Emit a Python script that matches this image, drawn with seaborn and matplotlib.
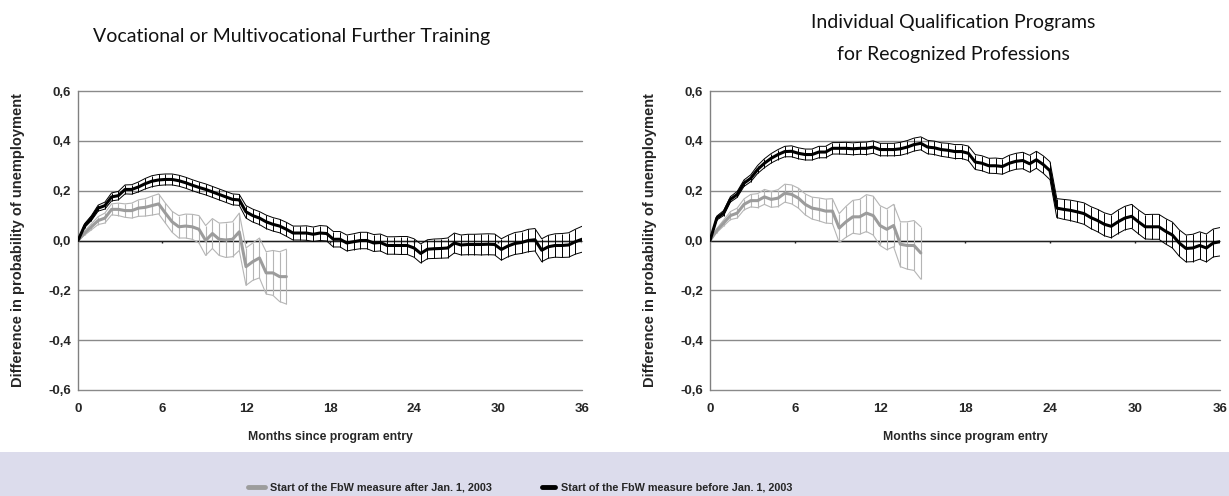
import numpy as np
import pandas as pd
import matplotlib
matplotlib.use("Agg")
import matplotlib.pyplot as plt
from matplotlib.patches import Rectangle
from matplotlib.lines import Line2D
import seaborn as sns

sns.set_theme(style="white")
plt.rcParams["font.family"] = ["Liberation Sans", "DejaVu Sans"]

# ---------------- data ----------------
STEP = 0.48  # months between observations

titles_left = ["Vocational or Multivocational Further Training"]
titles_right = ["Individual Qualification Programs", "for Recognized Professions"]
ylabel = "Difference in probability of unemployment"
xlabel = "Months since program entry"
legend_after = "Start of the FbW measure after Jan. 1, 2003"
legend_before = "Start of the FbW measure before Jan. 1, 2003"

xticks = [0, 6, 12, 18, 24, 30, 36]
yticks = [-0.6, -0.4, -0.2, 0.0, 0.2, 0.4, 0.6]
ytick_labels = ["-0,6", "-0,4", "-0,2", "0,0", "0,2", "0,4", "0,6"]

# Left panel, start before 2003 (black)
left_before_mean = [
    0.0, 0.06, 0.09, 0.13, 0.14, 0.175, 0.18, 0.205, 0.205, 0.215,
    0.228, 0.238, 0.243, 0.245, 0.245, 0.24, 0.232, 0.222, 0.213, 0.205,
    0.195, 0.185, 0.175, 0.165, 0.163, 0.115, 0.10, 0.09, 0.075, 0.065,
    0.058, 0.045, 0.03, 0.03, 0.03, 0.025, 0.03, 0.028, 0.005, 0.005,
    -0.01, -0.005, 0.0, 0.0, -0.01, -0.008, -0.02, -0.02, -0.02, -0.02,
    -0.03, -0.052, -0.035, -0.033, -0.032, -0.03, -0.01, -0.018, -0.016, -0.016,
    -0.016, -0.015, -0.016, -0.036, -0.022, -0.012, -0.008, 0.0, 0.003, -0.039,
    -0.025, -0.02, -0.02, -0.018, -0.005, 0.005,
]
left_before_hw = [
    0.0, 0.008, 0.01, 0.012, 0.014, 0.016, 0.017, 0.018, 0.019, 0.02,
    0.021, 0.022, 0.022, 0.022, 0.022, 0.022, 0.022, 0.022, 0.022, 0.022,
    0.022, 0.022, 0.022, 0.022, 0.022, 0.025, 0.026, 0.026, 0.027, 0.027,
    0.027, 0.028, 0.028, 0.028, 0.029, 0.029, 0.03, 0.03, 0.031, 0.031,
    0.032, 0.032, 0.033, 0.033, 0.034, 0.034, 0.035, 0.035, 0.036, 0.036,
    0.037, 0.038, 0.038, 0.039, 0.039, 0.04, 0.04, 0.04, 0.041, 0.041,
    0.042, 0.042, 0.042, 0.043, 0.043, 0.044, 0.044, 0.045, 0.045, 0.046,
    0.046, 0.047, 0.048, 0.049, 0.05, 0.052,
]
# Left panel, start after 2003 (gray)
left_after_mean = [
    0.0, 0.03, 0.055, 0.08, 0.09, 0.125, 0.125, 0.12, 0.12, 0.13,
    0.133, 0.14, 0.147, 0.11, 0.075, 0.055, 0.058, 0.055, 0.045, 0.0,
    0.028, 0.005, 0.002, 0.005, 0.035, -0.105, -0.085, -0.07, -0.13, -0.13,
    -0.145, -0.145,
]
left_after_hw = [
    0.0, 0.008, 0.012, 0.016, 0.02, 0.022, 0.025, 0.027, 0.03, 0.033,
    0.035, 0.038, 0.04, 0.04, 0.042, 0.045, 0.048, 0.05, 0.055, 0.06,
    0.06, 0.065, 0.07, 0.07, 0.075, 0.075, 0.075, 0.08, 0.085, 0.09,
    0.1, 0.11,
]

# Right panel, start before 2003 (black)
right_before_mean = [
    0.0, 0.09, 0.11, 0.165, 0.185, 0.23, 0.25, 0.285, 0.31, 0.33,
    0.345, 0.357, 0.358, 0.35, 0.345, 0.345, 0.355, 0.355, 0.37, 0.37,
    0.37, 0.368, 0.37, 0.37, 0.375, 0.365, 0.365, 0.365, 0.368, 0.375,
    0.385, 0.39, 0.375, 0.372, 0.365, 0.362, 0.357, 0.357, 0.35, 0.315,
    0.31, 0.30, 0.30, 0.297, 0.31, 0.318, 0.321, 0.308, 0.324, 0.305,
    0.28, 0.13, 0.125, 0.121, 0.115, 0.108, 0.092, 0.08, 0.065, 0.057,
    0.075, 0.09, 0.097, 0.075, 0.055, 0.055, 0.055, 0.037, 0.022, -0.01,
    -0.032, -0.03, -0.02, -0.03, -0.01, -0.005,
]
right_before_hw = [
    0.0, 0.008, 0.01, 0.011, 0.012, 0.013, 0.014, 0.016, 0.018, 0.019,
    0.02, 0.021, 0.022, 0.022, 0.022, 0.022, 0.023, 0.023, 0.023, 0.023,
    0.024, 0.024, 0.024, 0.025, 0.025, 0.025, 0.025, 0.025, 0.026, 0.026,
    0.026, 0.026, 0.027, 0.027, 0.027, 0.028, 0.028, 0.028, 0.029, 0.03,
    0.03, 0.03, 0.031, 0.031, 0.032, 0.032, 0.033, 0.034, 0.034, 0.035,
    0.036, 0.038, 0.04, 0.041, 0.042, 0.043, 0.044, 0.045, 0.046, 0.046,
    0.047, 0.047, 0.048, 0.048, 0.049, 0.05, 0.05, 0.051, 0.052, 0.053,
    0.054, 0.055, 0.055, 0.056, 0.056, 0.057,
]
# Right panel, start after 2003 (gray)
right_after_mean = [
    0.0, 0.04, 0.07, 0.10, 0.11, 0.145, 0.16, 0.16, 0.175, 0.165,
    0.17, 0.19, 0.185, 0.17, 0.145, 0.13, 0.125, 0.118, 0.118, 0.05,
    0.075, 0.095, 0.095, 0.11, 0.10, 0.06, 0.045, 0.06, -0.015, -0.02,
    -0.02, -0.05,
]
right_after_hw = [
    0.0, 0.008, 0.012, 0.016, 0.02, 0.022, 0.025, 0.028, 0.03, 0.032,
    0.034, 0.036, 0.038, 0.04, 0.042, 0.044, 0.046, 0.048, 0.05, 0.058,
    0.062, 0.066, 0.07, 0.074, 0.078, 0.08, 0.082, 0.085, 0.09, 0.095,
    0.1, 0.105,
]


def make_df(mean, hw):
    m = np.array(mean)
    h = np.array(hw)
    return pd.DataFrame({"t": np.arange(len(m)) * STEP, "mean": m,
                         "lo": m - h, "hi": m + h})


GRAY_MEAN = "#9c9c9c"
GRAY_BAND = "#b5b5b5"
BLACK = "#000000"

W, H = 1229, 496
fig = plt.figure(figsize=(W / 100, H / 100), dpi=100)
fig.patches.append(Rectangle((0, 0), 1, 44 / H, transform=fig.transFigure,
                             facecolor="#dcdcec", edgecolor="none", zorder=0))

ax1 = fig.add_axes([78 / W, 106 / H, 504 / W, 299 / H])
ax2 = fig.add_axes([710 / W, 106 / H, 510 / W, 299 / H])


def draw_series(ax, df, band_color, mean_color, band_lw, mean_lw, vlw):
    ax.vlines(df["t"], df["lo"], df["hi"], color=band_color, lw=vlw, zorder=3)
    sns.lineplot(data=df, x="t", y="lo", ax=ax, color=band_color, lw=band_lw,
                 zorder=3, legend=False)
    sns.lineplot(data=df, x="t", y="hi", ax=ax, color=band_color, lw=band_lw,
                 zorder=3, legend=False)
    sns.lineplot(data=df, x="t", y="mean", ax=ax, color=mean_color, lw=mean_lw,
                 zorder=4, legend=False)


def panel(ax, before_mean, before_hw, after_mean, after_hw):
    ax.set_facecolor("white")
    for yv in yticks:
        ax.axhline(yv, color="#8a8a8a", lw=1.0, zorder=1, clip_on=False)
    ax.axhline(0, color="#202020", lw=1.0, zorder=2)
    ax.vlines(xticks[1:], -0.012, 0, color="#202020", lw=1.0, zorder=2)
    draw_series(ax, make_df(after_mean, after_hw), GRAY_BAND, GRAY_MEAN, 0.8, 2.2, 0.8)
    draw_series(ax, make_df(before_mean, before_hw), BLACK, BLACK, 0.7, 2.2, 0.7)
    ax.set_xlim(0, 36)
    ax.set_ylim(-0.6, 0.6)
    ax.set_xticks(xticks)
    ax.set_xticklabels([str(x) for x in xticks], fontsize=9.5, fontweight="bold")
    ax.set_yticks(yticks)
    ax.set_yticklabels(ytick_labels, fontsize=9.5, fontweight="bold")
    ax.tick_params(axis="x", length=0, pad=9)
    ax.tick_params(axis="y", length=3, width=1, color="#808080", pad=2, direction="out")
    for s in ["top", "right", "bottom"]:
        ax.spines[s].set_visible(False)
    ax.spines["left"].set_color("#808080")
    ax.spines["left"].set_linewidth(1.0)
    ax.set_xlabel(xlabel, fontsize=8.8, fontweight="bold", va="center")
    ax.xaxis.set_label_coords(0.5, -0.157)
    ax.set_ylabel(ylabel, fontsize=10.5, fontweight="bold", va="center")
    ax.grid(False)


panel(ax1, left_before_mean, left_before_hw, left_after_mean, left_after_hw)
ax1.yaxis.set_label_coords(-0.119, 0.5)
panel(ax2, right_before_mean, right_before_hw, right_after_mean, right_after_hw)
ax2.yaxis.set_label_coords(-0.118, 0.5)

fig.text(292 / W, 1 - 42 / H, titles_left[0], family="Lato", fontsize=14,
         ha="center", va="baseline", color="#111111")
fig.text(953 / W, 1 - 28 / H, titles_right[0], family="Lato", fontsize=14,
         ha="center", va="baseline", color="#111111")
fig.text(953 / W, 1 - 60 / H, titles_right[1], family="Lato", fontsize=14,
         ha="center", va="baseline", color="#111111")

h_after = Line2D([], [], color=GRAY_MEAN, lw=3.5, solid_capstyle="round")
h_before = Line2D([], [], color=BLACK, lw=3.5, solid_capstyle="round")
leg1 = fig.legend([h_after], [legend_after], loc="center left",
                  bbox_to_anchor=(243 / W, 8 / H), frameon=False, borderpad=0,
                  handlelength=1.5, handletextpad=0.5,
                  prop={"weight": "bold", "size": 7.8})
leg2 = fig.legend([h_before], [legend_before], loc="center left",
                  bbox_to_anchor=(537 / W, 8 / H), frameon=False, borderpad=0,
                  handlelength=1.2, handletextpad=0.5,
                  prop={"weight": "bold", "size": 7.8})

fig.savefig("out.png", dpi=100, facecolor="white")
